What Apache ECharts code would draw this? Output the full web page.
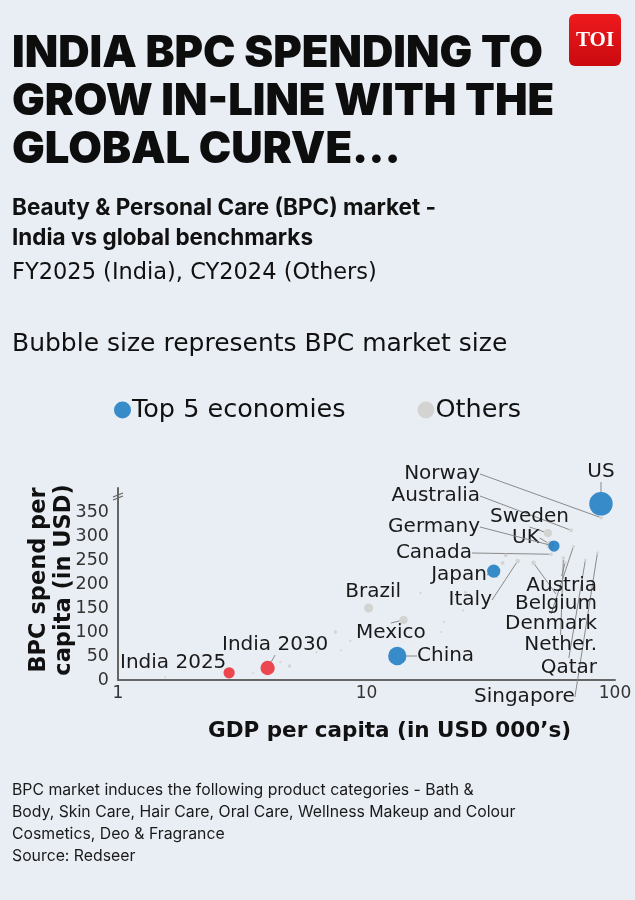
<!DOCTYPE html>
<html>
<head>
<meta charset="utf-8">
<script src="https://cdn.jsdelivr.net/npm/echarts@6/dist/echarts.min.js"></script>
<style>
  html, body { margin: 0; padding: 0; background: #e9eef5; }
  #chart { width: 635px; height: 900px; }
</style>
</head>
<body>
<div id="chart"></div>
<script>
// ---------- DATA ----------
// GDP per capita (USD 000's), BPC spend per capita (USD), BPC market size (USD bn)
const top5Names  = ['US', 'China', 'Germany', 'Japan'];
const top5Gdp    = [87.8, 13.3, 56.8, 32.5];
const top5Spend  = [367, 50, 279, 227];
const top5Market = [92, 56, 21, 29];

const indiaNames  = ['India 2025', 'India 2030'];
const indiaGdp    = [2.8, 4.0];
const indiaSpend  = [15, 25];
const indiaMarket = [21, 34];

const otherNames  = ['Norway', 'Australia', 'Sweden', 'UK', 'Canada', 'Austria', 'Belgium', 'Italy', 'Denmark', 'Nether.', 'Qatar', 'Singapore', 'Brazil', 'Mexico',
                     '', '', '', '', '', '', '', '', '', '', '', '', '', '', '', '', ''];
const otherGdp    = [88, 66.5, 53.7, 55, 55.3, 63, 47, 40.6, 68, 62, 76, 85, 10.2, 14.1,
                     7.5, 8.6, 7.9, 6.3, 4.9, 4.5, 1.55, 16.5, 20.5, 20, 25, 24.5, 36.3, 35.3, 55, 33.5, 3.5];
const otherSpend  = [338, 312, 306, 282, 262, 245, 244, 248, 278, 254, 250, 265, 150, 125,
                     100, 81, 62, 58, 29, 37, 6, 181, 121, 100, 183, 145, 260, 244, 406, 215, 15];
const otherMarket = [2, 2.5, 11, 12, 2, 1.5, 3.5, 3.5, 1.5, 2, 1.2, 1.5, 14, 11,
                     1.8, 0.8, 0.6, 0.8, 2, 0.8, 0.7, 0.8, 0.8, 0.6, 1.2, 0.8, 2.5, 2.5, 1, 1, 0.6];

const yTicks = [0, 50, 100, 150, 200, 250, 300, 350];
const xTicks = [1, 10, 100];

// ---------- LAYOUT (label anchors, not data) ----------
const labelAnchors = {
  'US': [601, 472, 'center'],
  'China': [417, 656, 'left'],
  'Germany': [480, 527, 'right'],
  'Japan': [487, 575, 'right'],
  'India 2025': [120, 663, 'left'],
  'India 2030': [222, 645, 'left'],
  'Norway': [480, 474, 'right'],
  'Australia': [480, 496, 'right'],
  'Sweden': [490, 517, 'left'],
  'UK': [512, 538, 'left'],
  'Canada': [472, 553, 'right'],
  'Austria': [597, 586, 'right'],
  'Belgium': [597, 604, 'right'],
  'Italy': [492, 600, 'right'],
  'Denmark': [597, 624, 'right'],
  'Nether.': [597, 645, 'right'],
  'Qatar': [597, 668, 'right'],
  'Singapore': [474, 697, 'left'],
  'Brazil': [401, 592, 'right'],
  'Mexico': [356, 633, 'left']
};
const noLine = { 'India 2025': true, 'Brazil': true };

const HEAVY = 'Inter, "Noto Sans", sans-serif';
const BODY = '"DejaVu Sans", Inter, sans-serif';
const sizeOf = m => 2.45 * Math.sqrt(m);

function build(names, gx, gy, gm) {
  return names.map((n, i) => ({
    name: n,
    value: [gx[i], gy[i], gm[i]],
    labelLine: { show: !!n && !noLine[n] }
  }));
}

function layoutFn(names) {
  return function (p) {
    const n = names[p.dataIndex];
    const a = labelAnchors[n];
    if (!a) return {};
    return { x: a[0], y: a[1], align: a[2], verticalAlign: 'middle' };
  };
}

const labelCommon = {
  show: true,
  formatter: p => p.name,
  color: '#1a1a1a',
  opacity: 1,
  textBorderWidth: 0,
  fontSize: 20,
  fontFamily: BODY
};
const lineCommon = { show: true, lineStyle: { color: '#8a8a8a', width: 1, opacity: 1 }, length2: 0 };

const chart = echarts.init(document.getElementById('chart'));
chart.setOption({
  backgroundColor: '#e9eef5',
  animation: false,
  title: [
    { text: 'INDIA BPC SPENDING TO\nGROW IN-LINE WITH THE\nGLOBAL CURVE...', left: 12, top: 30, padding: 0,
      textStyle: { fontFamily: HEAVY, fontWeight: 900, fontSize: 43.5, lineHeight: 48, color: '#0d0d0d' } },
    { text: 'Beauty & Personal Care (BPC) market -\nIndia vs global benchmarks', left: 12, top: 193, padding: 0,
      textStyle: { fontFamily: HEAVY, fontWeight: 700, fontSize: 22.5, lineHeight: 30, color: '#111' } },
    { text: 'FY2025 (India), CY2024 (Others)', left: 12, top: 262, padding: 0,
      textStyle: { fontFamily: BODY, fontWeight: 400, fontSize: 22.5, color: '#111' } },
    { text: 'Bubble size represents BPC market size', left: 12, top: 332, padding: 0,
      textStyle: { fontFamily: BODY, fontWeight: 400, fontSize: 25, color: '#111' } },
    { text: 'BPC market induces the following product categories - Bath &\nBody, Skin Care, Hair Care, Oral Care, Wellness Makeup and Colour\nCosmetics, Deo & Fragrance\nSource: Redseer',
      left: 12, top: 779, padding: 0,
      textStyle: { fontFamily: HEAVY, fontWeight: 400, fontSize: 15.8, lineHeight: 22, color: '#1a1a1a' } }
  ],
  legend: {
    data: ['Top 5 economies', 'Others'],
    left: 109, top: 392,
    icon: 'circle', itemWidth: 17, itemHeight: 17, itemGap: 72,
    textStyle: { fontFamily: BODY, fontSize: 25.5, color: '#111', padding: [0, 0, 0, -4] }
  },
  grid: { left: 118, right: 20, top: 488, bottom: 220 },
  xAxis: {
    type: 'log', logBase: 10, min: xTicks[0], max: xTicks[xTicks.length - 1],
    name: 'GDP per capita (in USD 000\u2019s)', nameLocation: 'middle', nameGap: 40,
    nameTextStyle: { fontFamily: BODY, fontWeight: 700, fontSize: 21.5, color: '#111', padding: [0, 0, 0, 46] },
    axisLine: { lineStyle: { color: '#666', width: 2 } },
    axisTick: { show: false },
    splitLine: { show: false },
    axisLabel: { fontFamily: BODY, fontSize: 17, color: '#333', margin: 5 }
  },
  yAxis: {
    type: 'value', min: 0, max: 400, interval: 50,
    axisLine: { show: true, lineStyle: { color: '#666', width: 2 } },
    axisTick: { show: false },
    splitLine: { show: false },
    axisLabel: { fontFamily: BODY, fontSize: 17.5, color: '#333', margin: 9,
      formatter: v => (yTicks.indexOf(v) >= 0 ? v : '') }
  },
  graphic: [
    { type: 'text', x: 52, y: 580, rotation: Math.PI / 2,
      style: { text: 'BPC spend per\ncapita (in USD)', align: 'center', verticalAlign: 'middle',
        fontFamily: BODY, fontWeight: 700, fontSize: 22.5, lineHeight: 25, fill: '#111' } },
    { type: 'line', shape: { x1: 113, y1: 497, x2: 123, y2: 493 }, style: { stroke: '#666', lineWidth: 1.2 } },
    { type: 'line', shape: { x1: 113, y1: 500, x2: 123, y2: 496 }, style: { stroke: '#666', lineWidth: 1.2 } },
    { type: 'rect', shape: { x: 569, y: 14, width: 52, height: 52, r: 6 },
      style: { fill: new echarts.graphic.LinearGradient(0, 0, 0, 1, [{ offset: 0, color: '#ee1a1d' }, { offset: 1, color: '#c90a0f' }]) } },
    { type: 'text', x: 595, y: 41,
      style: { text: 'TOI', align: 'center', verticalAlign: 'middle', fontFamily: '"Liberation Serif", "DejaVu Serif", serif',
        fontWeight: 700, fontSize: 21, fill: '#fff' } }
  ],
  series: [
    {
      name: 'Others', type: 'scatter', z: 2,
      data: build(otherNames, otherGdp, otherSpend, otherMarket),
      symbolSize: v => sizeOf(v[2]),
      itemStyle: { color: '#cdcdc9' },
      label: labelCommon, labelLine: lineCommon,
      labelLayout: layoutFn(otherNames)
    },
    {
      name: 'India', type: 'scatter', z: 3,
      data: build(indiaNames, indiaGdp, indiaSpend, indiaMarket),
      symbolSize: v => sizeOf(v[2]),
      itemStyle: { color: '#ec1c24' },
      label: labelCommon, labelLine: lineCommon,
      labelLayout: layoutFn(indiaNames)
    },
    {
      name: 'Top 5 economies', type: 'scatter', z: 4,
      data: build(top5Names, top5Gdp, top5Spend, top5Market),
      symbolSize: v => sizeOf(v[2]),
      itemStyle: { color: '#0a72bd' },
      label: labelCommon, labelLine: lineCommon,
      labelLayout: layoutFn(top5Names)
    }
  ]
});
</script>
</body>
</html>
